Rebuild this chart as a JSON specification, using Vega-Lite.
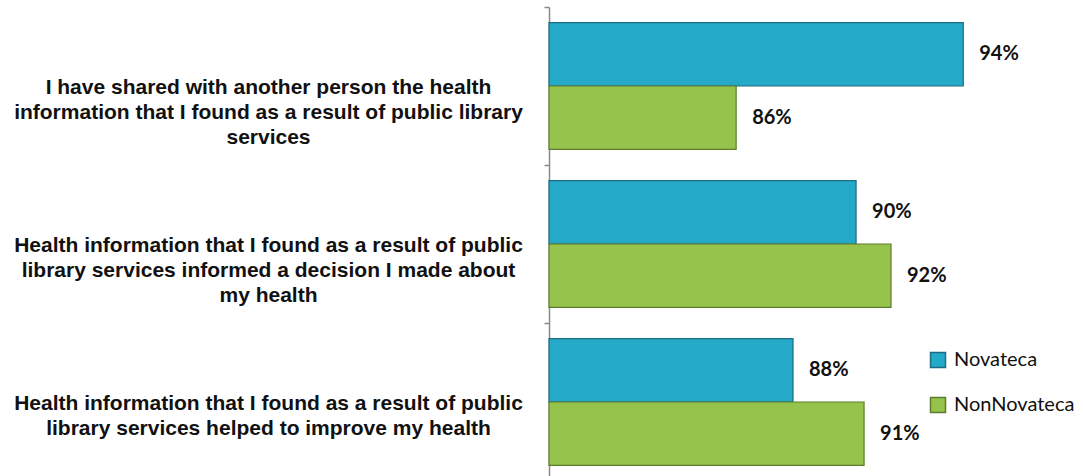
{
  "$schema": "https://vega.github.io/schema/vega-lite/v6.json",
  "autosize": "none",
  "width": 533,
  "height": 474,
  "padding": {"left": 549, "top": 7, "right": 1, "bottom": 0},
  "background": "#ffffff",
  "config": {"view": {"stroke": null}},
  "data": {
    "values": [
      {"statement": "I have shared with another person the health|information that I found as a result of public library|services", "group": "Novateca", "value": 93.99, "label": "94%"},
      {"statement": "I have shared with another person the health|information that I found as a result of public library|services", "group": "NonNovateca", "value": 86.32, "label": "86%"},
      {"statement": "Health information that I found as a result of public|library services informed a decision I made about|my health", "group": "Novateca", "value": 90.37, "label": "90%"},
      {"statement": "Health information that I found as a result of public|library services informed a decision I made about|my health", "group": "NonNovateca", "value": 91.55, "label": "92%"},
      {"statement": "Health information that I found as a result of public|library services helped to improve my health", "group": "Novateca", "value": 88.24, "label": "88%"},
      {"statement": "Health information that I found as a result of public|library services helped to improve my health", "group": "NonNovateca", "value": 90.64, "label": "91%"}
    ]
  },
  "encoding": {
    "y": {
      "field": "statement",
      "type": "nominal",
      "sort": null,
      "scale": {"paddingInner": 0, "paddingOuter": 0},
      "axis": {
        "title": null,
        "tickBand": "extent",
        "domainColor": "#8a8a8a",
        "domainWidth": 1.5,
        "tickColor": "#8a8a8a",
        "tickWidth": 1.5,
        "tickSize": 5,
        "labelExpr": "split(datum.label, '|')",
        "labelFont": "Liberation Sans",
        "labelFontWeight": "bold",
        "labelFontSize": 21,
        "labelLineHeight": 25,
        "labelColor": "#111111",
        "labelAlign": "center",
        "labelBaseline": "middle",
        "labelPadding": 276,
        "labelOffset": 1,
        "labelLimit": 0
      }
    },
    "yOffset": {
      "field": "group",
      "type": "nominal",
      "sort": ["Novateca", "NonNovateca"],
      "scale": {"paddingInner": 0, "paddingOuter": 0.248}
    },
    "x": {
      "field": "value",
      "type": "quantitative",
      "scale": {"domain": [80, 98], "zero": false, "nice": false},
      "axis": null
    }
  },
  "layer": [
    {
      "mark": {"type": "bar", "strokeWidth": 1.2},
      "encoding": {
        "x2": {"datum": 80},
        "fill": {
          "field": "group",
          "type": "nominal",
          "sort": ["Novateca", "NonNovateca"],
          "scale": {"domain": ["Novateca", "NonNovateca"], "range": ["#25A9C9", "#96C34B"]},
          "legend": {
            "title": null,
            "orient": "none",
            "legendX": 379,
            "legendY": 343,
            "symbolType": "square",
            "symbolSize": 225,
            "symbolStrokeWidth": 1.5,
            "labelFont": "Lato",
            "labelFontSize": 20,
            "labelColor": "#111111",
            "labelOffset": 6,
            "rowPadding": 23,
            "padding": 0
          }
        },
        "stroke": {
          "field": "group",
          "type": "nominal",
          "sort": ["Novateca", "NonNovateca"],
          "scale": {"domain": ["Novateca", "NonNovateca"], "range": ["#1D6C80", "#5C7D2B"]},
          "legend": null
        }
      }
    },
    {
      "mark": {"type": "text", "align": "left", "baseline": "middle", "dx": 16, "font": "Lato", "fontWeight": "bold", "fontSize": 20, "color": "#111111"},
      "encoding": {
        "text": {"field": "label"}
      }
    }
  ]
}
